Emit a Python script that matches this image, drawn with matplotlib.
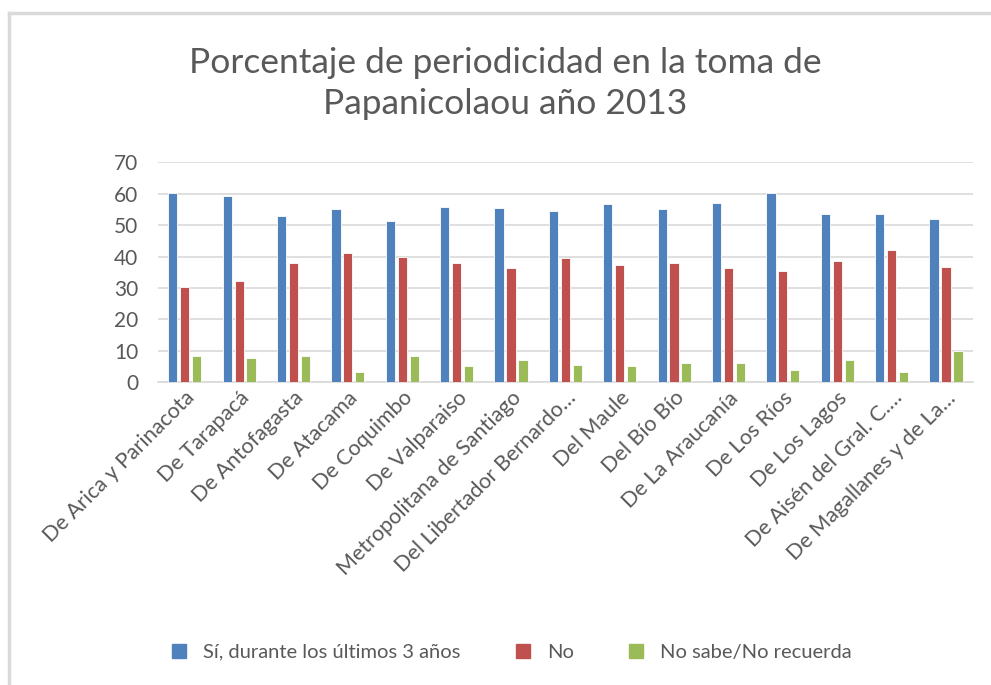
import numpy as np
import matplotlib.pyplot as plt
from matplotlib.lines import Line2D

plt.rcParams['font.family'] = ['Lato', 'DejaVu Sans']

regiones = ['De Arica y Parinacota', 'De Tarapacá', 'De Antofagasta', 'De Atacama',
            'De Coquimbo', 'De Valparaiso', 'Metropolitana de Santiago',
            'Del Libertador Bernardo…', 'Del Maule', 'Del Bío Bío', 'De La Araucanía',
            'De Los Ríos', 'De Los Lagos', 'De Aisén del Gral. C.…', 'De Magallanes y de La…']
si = [60.4, 59.3, 52.9, 55.0, 51.2, 55.9, 55.4, 54.6, 56.7, 55.0, 57.1, 60.1, 53.7, 53.7, 52.0]
no = [30.4, 32.1, 38.1, 41.0, 39.8, 38.1, 36.5, 39.4, 37.2, 38.1, 36.5, 35.5, 38.5, 42.2, 36.8]
no_sabe = [8.5, 7.8, 8.2, 3.1, 8.5, 5.1, 7.2, 5.5, 5.1, 6.0, 6.0, 3.8, 7.2, 3.4, 10.1]
series = ['Sí, durante los últimos 3 años', 'No', 'No sabe/No recuerda']
colores = ['#4f81bd', '#c0504d', '#9bbb59']
gris = '#595959'

fig = plt.figure(figsize=(9.91, 6.85), dpi=100)
ax = fig.add_axes([0.159, 0.442, 0.823, 0.321])

x = np.arange(len(regiones))
w = 0.17
paso = 0.22
for i, (vals, c) in enumerate(zip([si, no, no_sabe], colores)):
    ax.bar(x + (i - 1) * paso, vals, width=w, color=c, edgecolor='white', linewidth=0.6, zorder=3)

ax.set_xlim(-0.5, len(regiones) - 0.5)
ax.set_ylim(0, 70)
ax.set_yticks(range(0, 71, 10))
ax.grid(axis='y', color='#d9d9d9', linewidth=1.2, zorder=0)
for s in ['top', 'right', 'left']:
    ax.spines[s].set_visible(False)
ax.spines['bottom'].set_color('#d9d9d9')
ax.spines['bottom'].set_linewidth(1.2)
ax.tick_params(axis='y', length=0, labelsize=15, colors=gris, pad=14)
ax.tick_params(axis='x', length=0, labelsize=15.5, colors=gris, pad=4)
ax.set_xticks(x)
ax.set_xticklabels(regiones, rotation=45, ha='right', rotation_mode='anchor')

fig.text(0.51, 0.878, 'Porcentaje de periodicidad en la toma de\nPapanicolaou año 2013',
         ha='center', va='center', fontsize=25.5, color=gris, linespacing=1.35)

handles = [Line2D([], [], marker='s', linestyle='', markersize=10, color=c) for c in colores]
fig.legend(handles, series, loc='center', bbox_to_anchor=(0.51, 0.048), ncol=3, frameon=False,
           fontsize=14.5, labelcolor=gris, handletextpad=0.2, columnspacing=2.1)

# borde del gráfico
fig.add_artist(Line2D([0.0095, 0.0095], [0.0, 0.981], transform=fig.transFigure, color='#d9d9d9', linewidth=2.5))
fig.add_artist(Line2D([0.0095, 1.0], [0.981, 0.981], transform=fig.transFigure, color='#d9d9d9', linewidth=2.5))

fig.savefig('out.png', dpi=100)
